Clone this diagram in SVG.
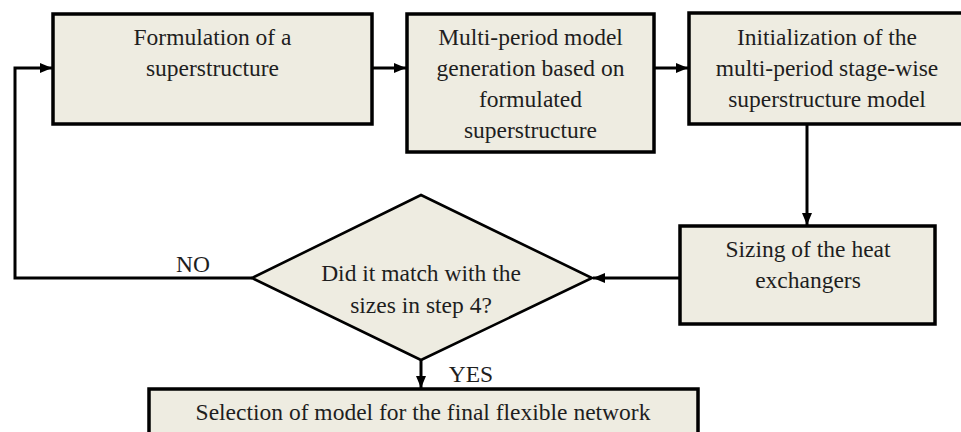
<svg xmlns="http://www.w3.org/2000/svg" width="961" height="432" viewBox="0 0 961 432">
<defs>
<style>
.box{fill:#EEECE1;stroke:#000;stroke-width:3.5}
.dia{fill:#EEECE1;stroke:#000;stroke-width:2.6}
.con{fill:none;stroke:#000;stroke-width:3}
</style>
<marker id="ah" markerUnits="userSpaceOnUse" markerWidth="12" markerHeight="12" viewBox="0 0 12 12" refX="12" refY="6" orient="auto">
<path d="M0,1 L12,6 L0,11 Z" fill="#000"/>
</marker>
</defs>
<rect width="961" height="432" fill="#fff"/>
<g font-family="Liberation Serif, Times New Roman, serif" font-size="23.5" fill="#1e1e1e" text-anchor="middle">
<g id="connectors">
<line class="con" x1="372" y1="68" x2="406" y2="68" marker-end="url(#ah)"/>
<line class="con" x1="654" y1="68" x2="688" y2="68" marker-end="url(#ah)"/>
<line class="con" x1="807" y1="124" x2="807" y2="225" marker-end="url(#ah)"/>
<line class="con" x1="680" y1="278" x2="593" y2="278" marker-end="url(#ah)"/>
<line class="con" x1="421" y1="360" x2="421" y2="388" marker-end="url(#ah)"/>
<polyline class="con" points="252,278 15,278 15,68 52,68" marker-end="url(#ah)"/>
<text x="193" y="272">NO</text>
<text x="471" y="382">YES</text>
</g>
<g id="n1">
<rect class="box" x="53" y="14" width="319" height="110"/>
<text x="212.5" y="45">Formulation of a</text>
<text x="212.5" y="76">superstructure</text>
</g>
<g id="n2">
<rect class="box" x="407" y="14" width="247" height="138"/>
<text x="530.5" y="45">Multi-period model</text>
<text x="530.5" y="76">generation based on</text>
<text x="530.5" y="107">formulated</text>
<text x="530.5" y="138">superstructure</text>
</g>
<g id="n3">
<rect class="box" x="689" y="13" width="290" height="111"/>
<text x="827" y="45">Initialization of the</text>
<text x="827" y="76">multi-period stage-wise</text>
<text x="827" y="107">superstructure model</text>
</g>
<g id="n4">
<rect class="box" x="680" y="226" width="255" height="98"/>
<text x="808" y="257">Sizing of the heat</text>
<text x="808" y="288">exchangers</text>
</g>
<g id="n5">
<polygon class="dia" points="421,195 592,278 421,360 252,278"/>
<text x="421" y="281">Did it match with the</text>
<text x="421" y="313">sizes in step 4?</text>
</g>
<g id="n6">
<rect class="box" x="149" y="389" width="549" height="60"/>
<text x="423" y="420">Selection of model for the final flexible network</text>
</g>
</g>
</svg>
